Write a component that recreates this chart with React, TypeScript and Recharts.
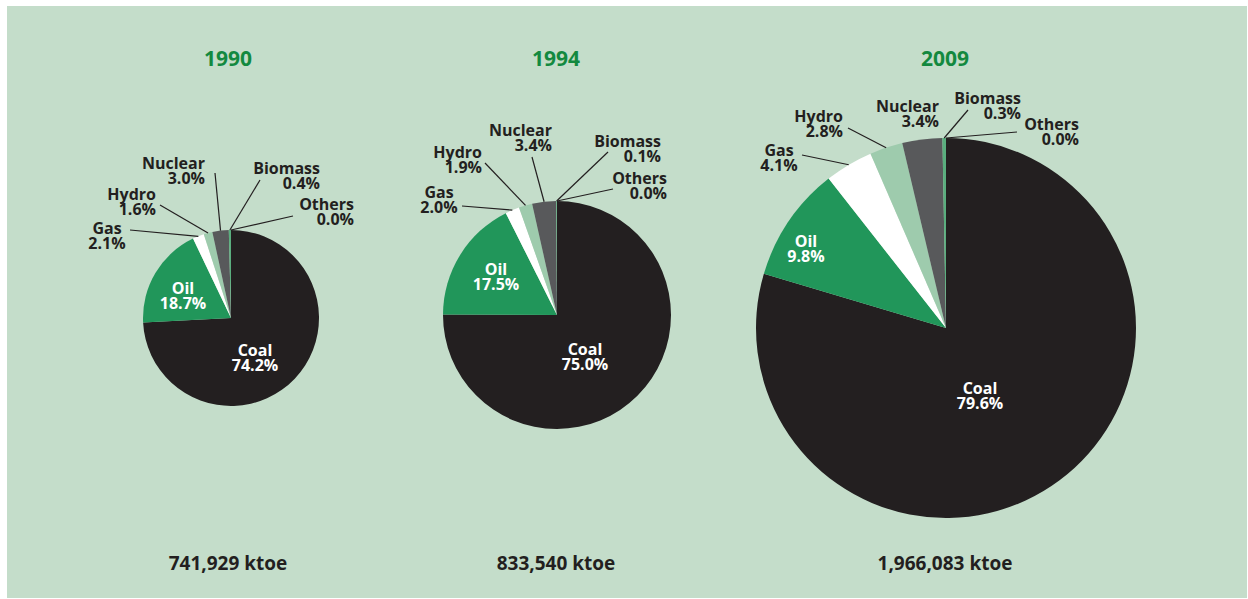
import { PieChart, Pie, Cell } from 'recharts';

const YEARS = ['1990', '1994', '2009'];
const TOTALS = ['741,929 ktoe', '833,540 ktoe', '1,966,083 ktoe'];
const SOURCES = ['Coal', 'Oil', 'Gas', 'Hydro', 'Nuclear', 'Biomass', 'Others'];
const SHARE_1990 = [74.2, 18.7, 2.1, 1.6, 3.0, 0.4, 0.0];
const SHARE_1994 = [75.0, 17.5, 2.0, 1.9, 3.4, 0.1, 0.0];
const SHARE_2009 = [79.6, 9.8, 4.1, 2.8, 3.4, 0.3, 0.0];

const COLORS = ['#231f20', '#21965a', '#ffffff', '#9ecbad', '#58595b', '#5aae7e', '#7fbf98'];
const BG = '#c4ddca';
const TITLE_GREEN = '#13893f';
const TEXT = '#231f20';
const FONT = "'Open Sans', sans-serif";

interface LabelPos {
  tx: number; // text x offset from pie centre
  ty: number; // first line centre y offset
  anchor: 'start' | 'middle' | 'end';
  lx?: number; // leader line start
  ly?: number;
  inside?: boolean;
}

// label placement for each source, per pie (offsets from the pie centre)
const LABELS_1990: LabelPos[] = [
  { tx: 24, ty: 32, anchor: 'middle', inside: true },
  { tx: -48, ty: -30, anchor: 'middle', inside: true },
  { tx: -124, ty: -90, anchor: 'middle', lx: -101, ly: -88 },
  { tx: -75, ty: -124, anchor: 'end', lx: -71, ly: -113 },
  { tx: -26, ty: -155, anchor: 'end', lx: -16, ly: -145 },
  { tx: 89, ty: -150, anchor: 'end', lx: 29, ly: -138 },
  { tx: 123, ty: -114, anchor: 'end', lx: 62, ly: -102 },
];
const LABELS_1994: LabelPos[] = [
  { tx: 28, ty: 34, anchor: 'middle', inside: true },
  { tx: -61, ty: -46, anchor: 'middle', inside: true },
  { tx: -118, ty: -123, anchor: 'middle', lx: -95, ly: -109 },
  { tx: -75, ty: -163, anchor: 'end', lx: -72, ly: -152 },
  { tx: -5, ty: -185, anchor: 'end', lx: -25, ly: -158 },
  { tx: 104, ty: -174, anchor: 'end', lx: 51, ly: -163 },
  { tx: 110, ty: -137, anchor: 'end', lx: 56, ly: -126 },
];
const LABELS_2009: LabelPos[] = [
  { tx: 34, ty: 60, anchor: 'middle', inside: true },
  { tx: -140, ty: -87, anchor: 'middle', inside: true },
  { tx: -167, ty: -178, anchor: 'middle', lx: -144, ly: -173 },
  { tx: -103, ty: -212, anchor: 'end', lx: -98, ly: -200 },
  { tx: -7, ty: -222, anchor: 'end' },
  { tx: 75, ty: -230, anchor: 'end', lx: 22, ly: -218 },
  { tx: 133, ty: -204, anchor: 'end', lx: 71, ly: -196 },
];

const PIES = [
  { data: SHARE_1990, labels: LABELS_1990, cx: 224, cy: 312, r: 88, x: 221 },
  { data: SHARE_1994, labels: LABELS_1994, cx: 550, cy: 309, r: 114, x: 549 },
  { data: SHARE_2009, labels: LABELS_2009, cx: 939, cy: 322, r: 190, x: 938 },
];

const RAD = Math.PI / 180;

function makeLabel(labels: LabelPos[]) {
  return (props: any) => {
    const { cx, cy, midAngle, outerRadius, index, payload } = props;
    const pos = labels[index];
    if (!pos) return null;
    const x = cx + pos.tx;
    const y = cy + pos.ty;
    const color = pos.inside ? '#ffffff' : TEXT;
    const ex = cx + outerRadius * Math.cos(-midAngle * RAD);
    const ey = cy + outerRadius * Math.sin(-midAngle * RAD);
    return (
      <g key={`lbl-${index}`}>
        {pos.lx !== undefined && pos.ly !== undefined && (
          <polyline
            points={`${cx + pos.lx},${cy + pos.ly} ${ex},${ey}`}
            fill="none"
            stroke={TEXT}
            strokeWidth={1.2}
          />
        )}
        <text
          x={x}
          textAnchor={pos.anchor}
          fill={color}
          fontFamily={FONT}
          fontWeight={700}
          fontSize={16}
        >
          <tspan x={x} y={y + 6}>{payload.name}</tspan>
          <tspan x={x} y={y + 21}>{`${payload.value.toFixed(1)}%`}</tspan>
        </text>
      </g>
    );
  };
}

export default function App() {
  return (
    <div
      style={{
        position: 'absolute',
        left: 7,
        top: 6,
        width: 1240,
        height: 592,
        background: BG,
        fontFamily: FONT,
      }}
    >
      <PieChart width={1240} height={592} margin={{ top: 0, right: 0, bottom: 0, left: 0 }}>
        {PIES.map((p, i) => (
          <Pie
            key={YEARS[i]}
            data={SOURCES.map((name, j) => ({ name, value: p.data[j] }))}
            dataKey="value"
            nameKey="name"
            cx={p.cx}
            cy={p.cy}
            outerRadius={p.r}
            startAngle={90}
            endAngle={-270}
            stroke="none"
            labelLine={false}
            label={makeLabel(p.labels)}
            isAnimationActive={false}
          >
            {SOURCES.map((s, j) => (
              <Cell key={s} fill={COLORS[j]} />
            ))}
          </Pie>
        ))}
      </PieChart>
      {PIES.map((p, i) => (
        <div key={`t-${i}`}>
          <div
            style={{
              position: 'absolute',
              left: p.x,
              top: 52,
              transform: 'translate(-50%, -50%)',
              color: TITLE_GREEN,
              fontWeight: 700,
              fontSize: 21,
              whiteSpace: 'nowrap',
            }}
          >
            {YEARS[i]}
          </div>
          <div
            style={{
              position: 'absolute',
              left: p.x,
              top: 557,
              transform: 'translate(-50%, -50%)',
              color: TEXT,
              fontWeight: 700,
              fontSize: 19,
              whiteSpace: 'nowrap',
            }}
          >
            {TOTALS[i]}
          </div>
        </div>
      ))}
    </div>
  );
}
